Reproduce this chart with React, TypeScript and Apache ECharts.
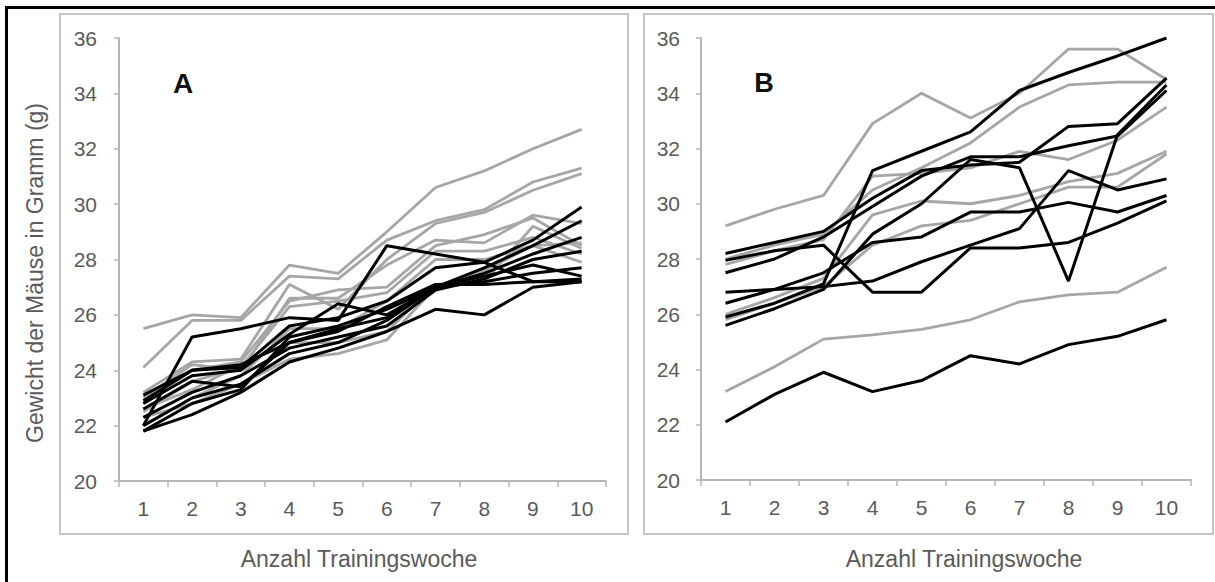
import React, { useEffect, useRef } from "react";
import * as echarts from "echarts";

const weeks = ["1", "2", "3", "4", "5", "6", "7", "8", "9", "10"];
const yMin = 20;
const yMax = 36;
const yStep = 2;
const panelLabels = ["A", "B"];
const xTitle = "Anzahl Trainingswoche";
const yTitle = "Gewicht der Mäuse in Gramm (g)";

// Panel A – grey curves
const aGray1 = [25.5, 26.0, 25.9, 27.8, 27.5, 29.0, 30.6, 31.2, 32.0, 32.7];
const aGray2 = [24.1, 25.8, 25.8, 27.4, 27.3, 28.7, 29.4, 29.8, 30.8, 31.3];
const aGray3 = [23.2, 24.3, 24.4, 27.1, 26.2, 28.0, 29.3, 29.7, 30.5, 31.1];
const aGray4 = [23.0, 24.2, 24.0, 26.6, 26.6, 27.8, 28.7, 28.6, 29.6, 29.3];
const aGray5 = [22.8, 24.0, 24.3, 26.5, 26.9, 27.0, 28.5, 28.9, 29.5, 28.5];
const aGray6 = [22.5, 23.6, 24.1, 26.3, 26.5, 26.8, 28.3, 28.3, 28.8, 28.2];
const aGray7 = [22.0, 23.0, 23.8, 25.5, 25.5, 26.5, 28.0, 28.0, 28.5, 27.9];
const aGray8 = [22.3, 22.8, 23.5, 24.4, 24.6, 25.1, 27.0, 27.6, 28.5, 28.6];
const aGray9 = [22.6, 23.3, 24.2, 25.0, 25.0, 25.4, 27.1, 27.2, 29.2, 28.4];
// Panel A – black curves
const aBlack1 = [22.0, 25.2, 25.5, 25.9, 25.8, 28.5, 28.2, 27.9, 27.2, 27.2];
const aBlack2 = [21.8, 22.4, 23.2, 24.3, 24.8, 25.4, 26.2, 26.0, 27.0, 27.2];
const aBlack3 = [23.1, 24.0, 24.1, 25.6, 25.9, 26.5, 27.7, 27.9, 28.7, 29.9];
const aBlack4 = [22.8, 23.8, 24.0, 25.3, 26.4, 26.0, 27.0, 27.7, 28.5, 29.4];
const aBlack5 = [22.6, 23.6, 23.4, 25.0, 25.5, 25.9, 27.0, 27.5, 28.2, 28.8];
const aBlack6 = [22.3, 23.2, 23.8, 24.8, 25.2, 25.6, 26.9, 27.3, 28.0, 28.3];
const aBlack7 = [22.0, 23.0, 23.5, 24.6, 25.0, 25.8, 27.0, 27.2, 27.5, 27.7];
const aBlack8 = [21.8, 22.8, 23.3, 25.2, 25.6, 26.2, 27.0, 27.4, 27.8, 27.4];
const aBlack9 = [22.9, 24.0, 24.2, 25.0, 25.4, 26.3, 27.1, 27.1, 27.2, 27.3];

// Panel B – grey curves
const bGray1 = [29.2, 29.8, 30.3, 32.9, 34.0, 33.1, 34.0, 35.6, 35.6, 34.5];
const bGray2 = [28.0, 28.5, 28.9, 30.5, 31.3, 32.2, 33.5, 34.3, 34.4, 34.4];
const bGray3 = [27.8, 28.3, 28.7, 31.0, 31.1, 31.3, 31.9, 31.6, 32.3, 33.5];
const bGray4 = [26.0, 26.6, 27.3, 29.6, 30.1, 30.0, 30.3, 30.8, 31.1, 31.9];
const bGray5 = [25.8, 26.4, 27.0, 28.5, 29.2, 29.4, 30.0, 30.6, 30.6, 31.8];
const bGray6 = [23.2, 24.1, 25.1, 25.25, 25.45, 25.8, 26.45, 26.7, 26.8, 27.7];
// Panel B – black curves
const bBlack1 = [25.9, 26.4, 27.1, 31.2, 31.9, 32.6, 34.1, 34.75, 35.35, 36.0];
const bBlack2 = [25.6, 26.2, 26.9, 28.9, 30.0, 31.6, 31.3, 27.2, 32.5, 34.3];
const bBlack3 = [28.2, 28.6, 29.0, 30.2, 31.2, 31.4, 31.5, 32.8, 32.9, 34.55];
const bBlack4 = [27.5, 28.0, 28.8, 29.9, 31.0, 31.7, 31.7, 32.1, 32.45, 34.1];
const bBlack5 = [26.8, 26.9, 27.0, 27.2, 27.9, 28.5, 29.1, 31.2, 30.5, 30.9];
const bBlack6 = [26.4, 26.9, 27.5, 28.6, 28.8, 29.7, 29.7, 30.05, 29.7, 30.3];
const bBlack7 = [27.95, 28.3, 28.5, 26.8, 26.8, 28.4, 28.4, 28.6, 29.3, 30.1];
const bBlack8 = [22.1, 23.1, 23.9, 23.2, 23.6, 24.5, 24.2, 24.9, 25.2, 25.8];

const panelAGray = [aGray1, aGray2, aGray3, aGray4, aGray5, aGray6, aGray7, aGray8, aGray9];
const panelABlack = [aBlack1, aBlack2, aBlack3, aBlack4, aBlack5, aBlack6, aBlack7, aBlack8, aBlack9];
const panelBGray = [bGray1, bGray2, bGray3, bGray4, bGray5, bGray6];
const panelBBlack = [bBlack1, bBlack2, bBlack3, bBlack4, bBlack5, bBlack6, bBlack7, bBlack8];

const GRAY = "#a6a6a6";
const BLACK = "#000000";
const TEXT = "#5a5a5a";
const AXIS = "#b5b5b5";
const FONT = "'Liberation Sans', Arial, sans-serif";

function makeX(gridIndex: number) {
  return {
    type: "category",
    gridIndex,
    data: weeks,
    boundaryGap: true,
    axisLine: { show: true, lineStyle: { color: AXIS, width: 2 } },
    axisTick: { show: true, interval: 0, length: 6, lineStyle: { color: AXIS, width: 1.5 } },
    axisLabel: { interval: 0, color: TEXT, fontSize: 21, fontFamily: FONT, margin: 17 },
    splitLine: { show: false },
  };
}

function makeY(gridIndex: number, margin: number) {
  return {
    type: "value",
    gridIndex,
    min: yMin,
    max: yMax,
    interval: yStep,
    axisLine: { show: true, lineStyle: { color: AXIS, width: 2 } },
    axisTick: { show: true, length: 5, lineStyle: { color: AXIS, width: 1.5 } },
    axisLabel: { color: TEXT, fontSize: 21, fontFamily: FONT, margin },
    splitLine: { show: false },
  };
}

function lineSeries(data: number[], idx: number, color: string, width: number) {
  return {
    type: "line",
    xAxisIndex: idx,
    yAxisIndex: idx,
    data,
    symbol: "none",
    silent: true,
    lineStyle: { color, width },
    z: color === BLACK ? 3 : 2,
  };
}

export default function App() {
  const ref = useRef<HTMLDivElement>(null);
  useEffect(() => {
    document.body.style.margin = "0";
    if (!ref.current) return;
    const chart = echarts.init(ref.current, null, { renderer: "svg" });
    const series: any[] = [];
    panelAGray.forEach((d) => series.push(lineSeries(d, 0, GRAY, 2.8)));
    panelABlack.forEach((d) => series.push(lineSeries(d, 0, BLACK, 3)));
    panelBGray.forEach((d) => series.push(lineSeries(d, 1, GRAY, 2.8)));
    panelBBlack.forEach((d) => series.push(lineSeries(d, 1, BLACK, 3)));

    chart.setOption({
      animation: false,
      backgroundColor: "#ffffff",
      textStyle: { fontFamily: FONT },
      grid: [
        { left: 119, top: 38, right: 1215 - 606, bottom: 582 - 481 },
        { left: 701, top: 38, right: 1215 - 1191, bottom: 582 - 480 },
      ],
      xAxis: [makeX(0), makeX(1)],
      yAxis: [makeY(0, 22), makeY(1, 21)],
      series,
      graphic: [
        { type: "rect", shape: { x: 6.5, y: 7.5, width: 1230, height: 600 }, style: { fill: "none", stroke: "#000", lineWidth: 3 }, silent: true, z: 0 },
        { type: "rect", shape: { x: 60, y: 14, width: 568, height: 520 }, style: { fill: "none", stroke: "#c4c4c4", lineWidth: 2 }, silent: true, z: 0 },
        { type: "rect", shape: { x: 644, y: 14, width: 569, height: 520 }, style: { fill: "none", stroke: "#c4c4c4", lineWidth: 2 }, silent: true, z: 0 },
        { type: "text", x: 183, y: 83, style: { text: panelLabels[0], font: "bold 28px 'Liberation Sans', Arial, sans-serif", fill: "#111", align: "center", verticalAlign: "middle" }, z: 10 },
        { type: "text", x: 764, y: 83, style: { text: panelLabels[1], font: "bold 27px 'Liberation Sans', Arial, sans-serif", fill: "#111", align: "center", verticalAlign: "middle" }, z: 10 },
        { type: "text", x: 359, y: 559, style: { text: xTitle, font: "23px 'Liberation Sans', Arial, sans-serif", fill: TEXT, align: "center", verticalAlign: "middle" }, z: 10 },
        { type: "text", x: 964, y: 559, style: { text: xTitle, font: "23px 'Liberation Sans', Arial, sans-serif", fill: TEXT, align: "center", verticalAlign: "middle" }, z: 10 },
        { type: "text", x: 35, y: 273, rotation: Math.PI / 2, style: { text: yTitle, font: "23px 'Liberation Sans', Arial, sans-serif", fill: TEXT, align: "center", verticalAlign: "middle" }, z: 10 },
      ],
    });
    return () => chart.dispose();
  }, []);
  return <div ref={ref} style={{ position: "absolute", left: 0, top: 0, width: 1215, height: 582 }} />;
}
